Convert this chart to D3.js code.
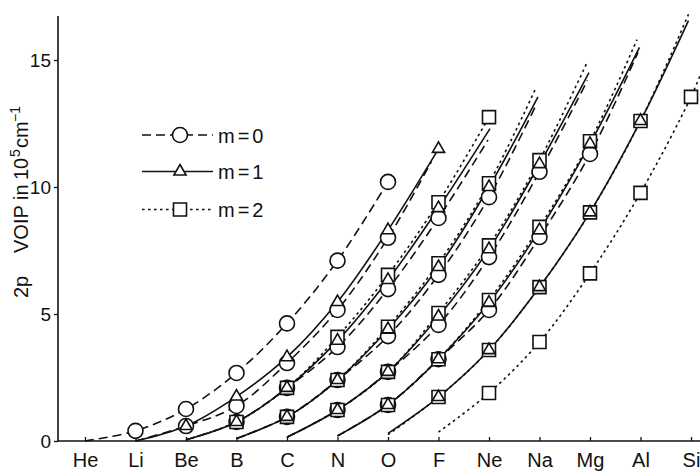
<!DOCTYPE html>
<html>
<head>
<meta charset="utf-8">
<script src="https://cdn.jsdelivr.net/npm/d3@7"></script>
<style>
  body { margin: 0; background: #fff; }
  svg { display: block; }
</style>
</head>
<body>
<div id="chart"></div>
<script>
// elementos del eje x
const elements = ["He", "Li", "Be", "B", "C", "N", "O", "F", "Ne", "Na", "Mg", "Al", "Si"];
const yTicks = [0, 5, 10, 15];
const legendLabels = ["m=0", "m=1", "m=2"];

// m = 0 (circulos, linea discontinua)
const circleFirst = [1, 2, 3, 4, 5, 6];
const circleValues = [
  [0.4, 1.26, 2.68, 4.63, 7.1, 10.2],
  [0.59, 1.38, 3.07, 5.16, 8.0],
  [0.75, 2.09, 3.7, 5.98, 8.78],
  [0.95, 2.4, 4.13, 6.54, 9.6],
  [1.22, 2.72, 4.57, 7.24, 10.6],
  [1.42, 3.22, 5.16, 8.03, 11.3]
];
const circleLineStart = [0, 0, 0.05, 0.1, 0.15, 0.2];
const circleLineEnd = [null, [6.86, 11.0], [7.98, 11.85], [8.95, 13.3], [9.95, 14.2], [10.95, 15.3]];

// m = 1 (triangulos, linea continua)
const triangleFirst = [2, 3, 4, 5, 6, 7];
const triangleValues = [
  [0.59, 1.75, 3.3, 5.47, 8.3, 11.5],
  [0.75, 2.09, 3.95, 6.34, 9.17],
  [0.95, 2.4, 4.4, 6.85, 10.0],
  [1.22, 2.72, 4.9, 7.55, 10.9],
  [1.42, 3.22, 5.45, 8.3, 11.7],
  [1.73, 3.58, 6.06, 9.0, 12.6]
];
const triangleLineStart = [0, 0.05, 0.1, 0.15, 0.2, 0.3];
const triangleLineEnd = [null, [8.02, 12.3], [8.97, 13.55], [9.98, 14.5], [10.98, 15.5], [11.95, 16.55]];

// m = 2 (cuadrados, linea punteada)
const squareFirst = [3, 4, 5, 6, 7, 8];
const squareValues = [
  [0.75, 2.09, 4.1, 6.54, 9.4, 12.75],
  [0.95, 2.4, 4.5, 7.0, 10.15],
  [1.22, 2.72, 5.04, 7.7, 11.06],
  [1.42, 3.22, 5.55, 8.43, 11.8],
  [1.73, 3.58, 6.06, 9.0, 12.6],
  [1.89, 3.9, 6.6, 9.77, 13.55]
];
const squareLineStart = [0.05, 0.1, 0.15, 0.2, 0.25, 0.35];
const squareLineEnd = [null, [8.93, 13.9], [9.93, 14.85], [10.93, 15.8], [11.95, 16.8], [12.3, 15.0]];

const width = 700;
const height = 474;
const font = "'Liberation Sans', Arial, sans-serif";

const x = d3.scaleLinear().domain([0, elements.length - 1]).range([85, 691]);
const y = d3.scaleLinear().domain([0, 15]).range([441, 60]);

const svg = d3.select("#chart").append("svg")
    .attr("width", width)
    .attr("height", height)
    .style("font-family", font);

// construir las series
function buildSeries(first, values, start, end, kind) {
  return values.map((vals, i) => {
    const pts = vals.map((v, j) => [first[i] + j, v]);
    const linePts = [[first[i] - 1, start[i]], ...pts];
    if (end[i]) linePts.push(end[i]);
    return {kind, pts, linePts};
  });
}
const series = [
  ...buildSeries(circleFirst, circleValues, circleLineStart, circleLineEnd, "circle"),
  ...buildSeries(triangleFirst, triangleValues, triangleLineStart, triangleLineEnd, "triangle"),
  ...buildSeries(squareFirst, squareValues, squareLineStart, squareLineEnd, "square")
];
const dashes = {circle: "9,5", triangle: null, square: "2.6,3.4"};

const line = d3.line()
    .x(d => x(d[0]))
    .y(d => y(d[1]))
    .curve(d3.curveCatmullRom.alpha(0.5));

// ejes
svg.append("line")
    .attr("x1", 58).attr("x2", width)
    .attr("y1", y(0)).attr("y2", y(0))
    .attr("stroke", "#111").attr("stroke-width", 1.6);
svg.append("line")
    .attr("x1", 58).attr("x2", 58)
    .attr("y1", 16).attr("y2", y(0))
    .attr("stroke", "#111").attr("stroke-width", 1.6);

const gx = svg.append("g")
    .attr("transform", `translate(0,${y(0)})`)
    .call(d3.axisBottom(x)
      .tickValues(d3.range(elements.length))
      .tickFormat(i => elements[i])
      .tickSizeInner(-4)
      .tickSizeOuter(0)
      .tickPadding(12));
gx.select(".domain").remove();
gx.selectAll("line").attr("stroke", "#111").attr("stroke-width", 1.3);
gx.selectAll("text").attr("font-size", 20).attr("font-family", font).attr("fill", "#111");

const gy = svg.append("g")
    .attr("transform", "translate(58,0)")
    .call(d3.axisLeft(y)
      .tickValues(yTicks)
      .tickSizeInner(4)
      .tickSizeOuter(0)
      .tickPadding(3));
gy.select(".domain").remove();
gy.selectAll("line").attr("stroke", "#111").attr("stroke-width", 1.3);
gy.selectAll("text").attr("font-size", 19).attr("font-family", font).attr("fill", "#111");

// titulo eje y
const ylab = svg.append("text")
    .attr("transform", "translate(28,298) rotate(-90)")
    .attr("font-size", 20)
    .attr("fill", "#111");
ylab.append("tspan").attr("x", 0).text("2p");
ylab.append("tspan").attr("x", 45).text("VOIP");
ylab.append("tspan").attr("x", 98).text("in");
ylab.append("tspan").attr("x", 118).text("10");
ylab.append("tspan").attr("x", 141).attr("dy", -8).attr("font-size", 14).text("5");
ylab.append("tspan").attr("x", 150).attr("dy", 8).text("cm");
ylab.append("tspan").attr("x", 176).attr("dy", -8).attr("font-size", 14).text("\u22121");

// curvas
svg.append("g")
    .attr("fill", "none")
    .attr("stroke", "#111")
    .attr("stroke-width", 1.6)
  .selectAll("path")
  .data(series)
  .join("path")
    .attr("stroke-dasharray", d => dashes[d.kind])
    .attr("d", d => line(d.linePts));

// simbolos
const symbolPath = {
  circle: null,
  triangle: d3.symbol(d3.symbolTriangle, 64)(),
  square: d3.symbol(d3.symbolSquare, 169)()
};
function drawMarker(g, kind) {
  if (kind === "circle") {
    g.append("circle").attr("r", 7.5);
  } else {
    g.append("path").attr("d", symbolPath[kind]);
  }
}

const markers = svg.append("g")
    .attr("fill", "#fff")
    .attr("stroke", "#111")
    .attr("stroke-width", 1.6);
["circle", "square", "triangle"].forEach(kind => {
  series.filter(s => s.kind === kind).forEach(s => {
    s.pts.forEach(p => {
      const g = markers.append("g").attr("transform", `translate(${x(p[0])},${y(p[1])})`);
      drawMarker(g, kind);
    });
  });
});

// leyenda
const legendKinds = ["circle", "triangle", "square"];
const legendY = [135, 171.5, 209.5];
const legend = svg.append("g");
legendKinds.forEach((kind, i) => {
  const row = legend.append("g").attr("transform", `translate(0,${legendY[i]})`);
  row.append("line")
      .attr("x1", 142).attr("x2", 213)
      .attr("stroke", "#111").attr("stroke-width", 1.6)
      .attr("stroke-dasharray", dashes[kind]);
  const mk = row.append("g")
      .attr("transform", "translate(180,0)")
      .attr("fill", "#fff").attr("stroke", "#111").attr("stroke-width", 1.6);
  drawMarker(mk, kind);
  row.append("text")
      .attr("x", 218).attr("y", 7.5)
      .attr("font-size", 20)
      .attr("letter-spacing", 3)
      .attr("fill", "#111")
      .text(legendLabels[i]);
});
</script>
</body>
</html>
